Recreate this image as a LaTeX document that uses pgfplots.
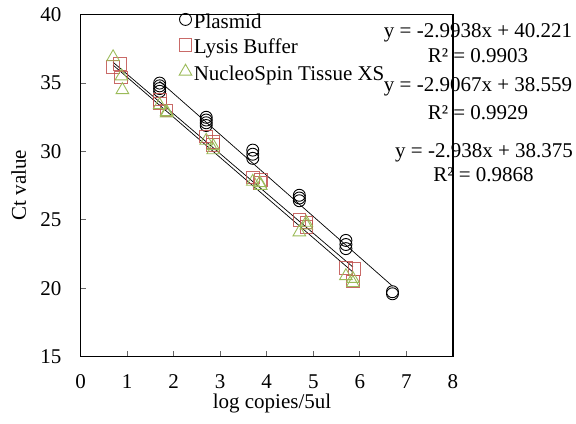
\documentclass[border=0pt]{standalone}
\usepackage{fontspec}
\setmainfont{Liberation Serif}
\usepackage{pgfplots}
\pgfplotsset{compat=1.18}

\definecolor{lysis}{RGB}{192,80,77}
\definecolor{nucleo}{RGB}{155,187,89}

\begin{document}
\fontsize{21bp}{25bp}\selectfont
\begin{tikzpicture}
\useasboundingbox (0,0) rectangle (576bp,424bp);
\begin{axis}[
  at={(80.5bp,67.3bp)}, anchor=south west,
  scale only axis, width=372.5bp, height=342bp,
  xmin=0, xmax=8, ymin=15, ymax=40,
  xtick={0,1,...,8}, ytick={15,20,...,40},
  tick pos=left, tick align=inside,
  major tick length=6bp,
  tick style={black!60, line width=0.8bp},
  axis line style={line width=1.5bp},
  /pgf/number format/assume math mode=true,
  xticklabel style={anchor=north, yshift=-11bp},
  yticklabel style={anchor=east, xshift=-12bp},
  xlabel={log copies/5ul},
  xlabel style={at={(axis description cs:0.514,-0.138)}, anchor=center},
  ylabel={Ct value},
  ylabel style={at={(axis description cs:-0.166,0.502)}, anchor=center},
  legend style={draw=none, fill=none, at={(0.2644,1.005)}, anchor=north west,
    inner sep=0pt, row sep=0pt, column sep=2bp,
    nodes={inner xsep=0bp, inner ysep=0bp, text height=15bp, text depth=10.5bp}},
  legend cell align=left,
  legend image code/.code={\draw[#1] plot coordinates {(6bp,6.5bp)};},
]
% Plasmid
\addplot[only marks, mark=o, mark size=6bp, mark options={line width=0.9bp, draw=black}]
  coordinates {
  (1.7,35.0) (1.7,34.8) (1.7,34.6) (1.7,34.4)
  (2.7,32.5) (2.7,32.3) (2.7,32.1) (2.7,31.9)
  (3.7,30.1) (3.7,29.8) (3.7,29.5)
  (4.7,26.8) (4.7,26.6) (4.7,26.4)
  (5.7,23.5) (5.7,23.2) (5.7,22.9)
  (6.7,19.75) (6.7,19.6)};
\addlegendentry{Plasmid}
% Lysis Buffer
\addplot[only marks, mark=square, mark size=6.3bp, mark options={line width=0.9bp, draw=lysis, draw opacity=0.85}]
  coordinates {
  (0.7,36.2) (0.85,36.4) (0.87,35.4)
  (1.7,33.8) (1.7,33.5) (1.85,33.0)
  (2.7,31.1) (2.85,30.7) (2.85,30.5)
  (3.7,28.1) (3.87,27.9) (3.85,27.7)
  (4.7,25.0) (4.85,24.8) (4.85,24.5)
  (5.7,21.5) (5.88,21.4) (5.85,20.5)};
\addlegendentry{Lysis Buffer}
% NucleoSpin Tissue XS
\addplot[only marks, mark=triangle, mark size=7.3bp, mark options={line width=0.9bp, draw=nucleo}]
  coordinates {
  (0.7,36.9) (0.88,35.5) (0.9,34.5)
  (1.7,33.4) (1.85,32.8) (1.85,32.9)
  (2.7,30.8) (2.85,30.4) (2.85,30.1)
  (3.7,27.8) (3.87,27.5) (3.85,27.7)
  (4.7,24.1) (4.85,24.8) (4.85,24.6)
  (5.7,20.9) (5.85,20.7) (5.85,20.4)};
\addlegendentry{NucleoSpin Tissue XS}
% linear trendlines
\addplot[black, line width=0.7bp, forget plot] coordinates {(1.7,35.132) (6.7,20.162)};
\addplot[black, line width=0.7bp, forget plot] coordinates {(0.7,36.524) (5.85,21.555)};
\addplot[black, line width=0.7bp, forget plot] coordinates {(0.7,36.318) (5.85,21.188)};
\end{axis}
\node[anchor=base, inner sep=0pt] at (478bp,386bp) {y = -2.9938x + 40.221};
\node[anchor=base, inner sep=0pt] at (478bp,361bp) {R² = 0.9903};
\node[anchor=base, inner sep=0pt] at (478bp,332bp) {y = -2.9067x + 38.559};
\node[anchor=base, inner sep=0pt] at (478bp,304bp) {R² = 0.9929};
\node[anchor=base, inner sep=0pt] at (484bp,266bp) {y = -2.938x + 38.375};
\node[anchor=base, inner sep=0pt] at (483.5bp,242bp) {R² = 0.9868};
\end{tikzpicture}
\end{document}
